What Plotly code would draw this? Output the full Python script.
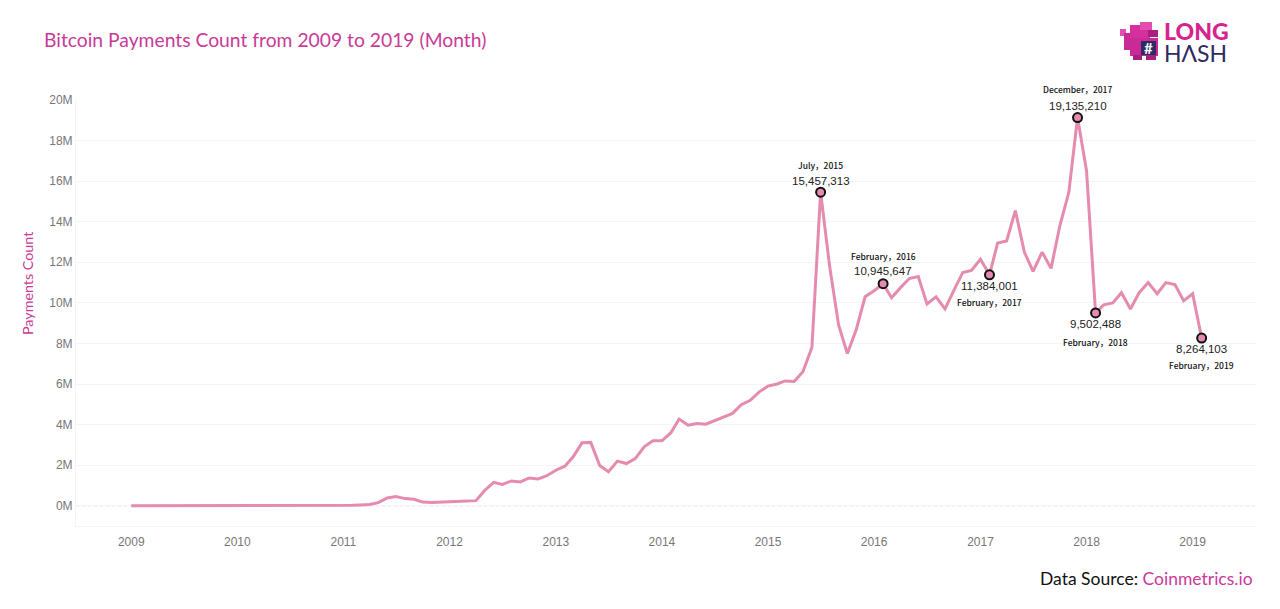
"""
Bitcoin payments count per month, 2009 to 2019, LongHash style chart.
"""
import pandas as pd
import plotly.graph_objects as go

# monthly values in millions, Jan 2009 - Feb 2019
values_2009 = [0.0] * 12
values_2010 = [0.0, 0.0, 0.0, 0.0, 0.0, 0.0, 0.01, 0.0, 0.0, 0.0, 0.0, 0.0]
values_2011 = [0.01, 0.02, 0.04, 0.06, 0.15, 0.38, 0.45, 0.35, 0.32, 0.18, 0.16, 0.17]
values_2012 = [0.2, 0.22, 0.23, 0.25, 0.75, 1.15, 1.05, 1.22, 1.17, 1.37, 1.32, 1.48]
values_2013 = [1.75, 1.95, 2.4, 3.1, 3.12, 1.98, 1.68, 2.2, 2.08, 2.32, 2.9, 3.2]
values_2014 = [3.2, 3.6, 4.27, 3.97, 4.05, 4.02, 4.2, 4.4, 4.55, 4.98, 5.2, 5.6]
values_2015 = [5.9, 6.0, 6.15, 6.12, 6.6, 7.8, 15.457313, 11.8, 8.9, 7.5, 8.7, 10.3]
values_2016 = [10.6, 10.945647, 10.25, 10.75, 11.2, 11.3, 9.95, 10.3, 9.7, 10.6, 11.5, 11.6]
values_2017 = [12.15, 11.384001, 12.95, 13.05, 14.55, 12.5, 11.55, 12.5, 11.7, 13.8, 15.45, 19.13521]
values_2018 = [16.5, 9.502488, 9.9, 10.0, 10.5, 9.7, 10.5, 11.0, 10.45, 11.0, 10.9, 10.1]
values_2019 = [10.45, 8.264103]

payments = (values_2009 + values_2010 + values_2011 + values_2012 + values_2013 + values_2014
            + values_2015 + values_2016 + values_2017 + values_2018 + values_2019)
months = pd.date_range('2009-01-01', periods=len(payments), freq='MS')

# highlighted months
peak_dates = ['2015-07-01', '2016-02-01', '2017-02-01', '2017-12-01', '2018-02-01', '2019-02-01']
peak_values = [15.457313, 10.945647, 11.384001, 19.13521, 9.502488, 8.264103]
peak_numbers = ['15,457,313', '10,945,647', '11,384,001', '19,135,210', '9,502,488', '8,264,103']
peak_months = ['July，2015', 'February，2016', 'February，2017', 'December，2017', 'February，2018', 'February，2019']
number_shift = [11, 13, -11, 12, -11, -11]
month_shift = [27, 28, -27, 29, -29, -27]

year_ticks = [f'{y}-01-01' for y in range(2009, 2020)]
year_labels = [str(y) for y in range(2009, 2020)]
y_ticks = list(range(0, 21, 2))
y_labels = [f'{v}M' for v in y_ticks]

PINK = '#c93a98'
LINE = '#e58bb0'
NAVY = '#2f2a63'
GRID = '#f4f4f4'
# plot area as it sits in the page; the page body adds 8px around the figure
PAGE = 8
LEFT, RIGHT, TOP, BOTTOM = 76, 1256, 100, 526


def px(x, y):
    return (x - LEFT) / (RIGHT - LEFT), (BOTTOM - y) / (BOTTOM - TOP)


def block(x0, y0, x1, y1, color):
    a, b = px(x0, y0)
    c, d = px(x1, y1)
    return dict(type='rect', xref='paper', yref='paper', x0=a, y0=b, x1=c, y1=d,
                fillcolor=color, line=dict(width=0), layer='above')


def note(x, y, text, size, color, family='Lato', anchor='left', weight='normal', **kw):
    a, b = px(x, y)
    return dict(x=a, y=b, xref='paper', yref='paper', text=text, showarrow=False, xanchor=anchor,
                yanchor='middle', font=dict(size=size, color=color, family=family, weight=weight), **kw)


fig = go.Figure()
fig.add_trace(go.Scatter(x=months, y=payments, mode='lines', line=dict(color=LINE, width=3),
                         showlegend=False))
fig.add_trace(go.Scatter(x=peak_dates, y=peak_values, mode='markers', showlegend=False,
                         marker=dict(size=9, color=LINE, line=dict(color='#111111', width=2))))

annotations = []
for d, v, num, mon, s1, s2 in zip(peak_dates, peak_values, peak_numbers, peak_months, number_shift, month_shift):
    annotations.append(dict(x=d, y=v, text=num, showarrow=False, yshift=s1, yanchor='middle',
                            font=dict(size=11.5, color='#222222', family='Liberation Sans')))
    annotations.append(dict(x=d, y=v, text=mon, showarrow=False, yshift=s2, yanchor='middle',
                            font=dict(size=8.5, color='#111111', family='Noto Sans CJK SC', weight=500)))

annotations += [
    note(42, 40, 'Bitcoin Payments Count from 2009 to 2019 (Month)', 19.3, PINK),
    note(27, 284, 'Payments Count', 14.3, PINK, anchor='center', textangle=-90),
    note(1255, 578, f'Data Source: <span style="color:{PINK}">Coinmetrics.io</span>', 17.5, '#111111', anchor='right'),
    note(1162, 31, 'LONG', 23, '#d6248f', weight=900, height=20),
    note(1162, 53, 'H\u039bSH', 23, NAVY, weight=400, height=20),
    note(1148.5, 48, '<b>#</b>', 15, 'white', anchor='center', height=14),
]

# logo blocks
logo = [
    block(1120, 29, 1126, 36, '#e04fb0'),
    block(1124, 33, 1132, 50, '#c92a96'),
    block(1130, 25, 1150, 40, '#d6309f'),
    block(1140, 22, 1152, 30, '#e04fb0'),
    block(1148, 30, 1158, 37, '#a81f80'),
    block(1130, 38, 1158, 56, '#c92a96'),
    block(1141, 41, 1156, 55, NAVY),
    block(1133, 55, 1142, 60, '#a81f80'),
    block(1146, 55, 1156, 60, '#a81f80'),
]

# dotted line at zero
zero_line = dict(type='line', xref='paper', yref='y', x0=0, x1=1, y0=0, y1=0,
                 line=dict(color='#bdbdbd', width=1, dash='dot'), layer='below')

fig.update_layout(
    width=1272, height=601,
    margin=dict(l=LEFT - PAGE, r=1272 - (RIGHT - PAGE), t=TOP - PAGE, b=601 - (BOTTOM - PAGE)),
    paper_bgcolor='white', plot_bgcolor='white',
    annotations=annotations,
    shapes=logo + [zero_line],
)
fig.update_xaxes(type='date', range=['2008-06-25', '2019-08-07'], tickvals=year_ticks, ticktext=year_labels,
                 showgrid=False, showline=True, linecolor=GRID, zeroline=False, ticks='', ticklabelstandoff=5,
                 tickfont=dict(size=12, color='#777777', family='Liberation Sans'))
fig.update_yaxes(range=[-1, 20], tickvals=y_ticks, ticktext=y_labels, gridcolor=GRID, zeroline=False,
                 showline=True, linecolor=GRID, ticks='',
                 tickfont=dict(size=12, color='#777777', family='Liberation Sans'))

fig.write_html("out.html")
